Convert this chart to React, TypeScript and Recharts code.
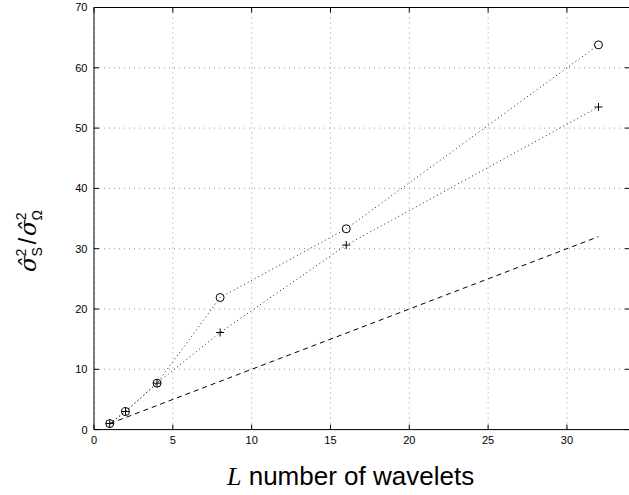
import React from 'react';
import { LineChart, Line, XAxis, YAxis, CartesianGrid, Label } from 'recharts';

const waveletCounts = [1, 2, 4, 8, 16, 32];
const circleValues = [1.0, 3.0, 7.7, 21.9, 33.3, 63.8];
const plusValues = [1.0, 3.0, 7.7, 16.1, 30.6, 53.5];
const referenceX = [1, 32];
const referenceY = [1, 32];
const xTicks = [0, 5, 10, 15, 20, 25, 30];
const yTicks = [0, 10, 20, 30, 40, 50, 60, 70];

const circleData = waveletCounts.map((x, i) => ({ x, y: circleValues[i] }));
const plusData = waveletCounts.map((x, i) => ({ x, y: plusValues[i] }));
const refData = referenceX.map((x, i) => ({ x, y: referenceY[i] }));

const CircleDot = (props: any) => {
  const { cx, cy, index } = props;
  return <circle key={`c-${index}`} cx={cx} cy={cy} r={4} fill="none" stroke="#000" strokeWidth={1} />;
};

const PlusDot = (props: any) => {
  const { cx, cy, index } = props;
  const s = 4;
  return (
    <g key={`p-${index}`}>
      <line x1={cx - s} x2={cx + s} y1={cy} y2={cy} stroke="#000" strokeWidth={1} />
      <line x1={cx} x2={cx} y1={cy - s} y2={cy + s} stroke="#000" strokeWidth={1} />
    </g>
  );
};

const XLabel = () => (
  <text x={227} y={485} fontSize={26} fill="#000">
    <tspan fontFamily="'Liberation Serif', serif" fontStyle="italic">L</tspan>
    <tspan fontFamily="'Liberation Sans', Arial, sans-serif"> number of wavelets</tspan>
  </text>
);

const sub = { fontSize: 14, fontFamily: "'Liberation Sans', sans-serif", fontStyle: 'normal' as const };

const YLabel = () => (
  <text
    x={36}
    y={241}
    transform="rotate(-90, 36, 241)"
    textAnchor="middle"
    fontSize={23}
    fill="#000"
    fontFamily="'DejaVu Serif', serif"
  >
    <tspan fontStyle="italic">σ̂</tspan>
    <tspan {...sub} dy={-10}>2</tspan>
    <tspan {...sub} dx={-8} dy={16}>S</tspan>
    <tspan dx={3} dy={-6} fontFamily="'Liberation Sans', sans-serif">/</tspan>
    <tspan dx={2} fontStyle="italic">σ̂</tspan>
    <tspan {...sub} dy={-10}>2</tspan>
    <tspan {...sub} dx={-8} dy={16}>Ω</tspan>
  </text>
);

export default function App() {
  const tickStyle = { fill: '#000', fontSize: 11, fontFamily: "'Liberation Sans', Arial, sans-serif" };
  return (
    <div style={{ position: 'absolute', left: 0, top: 0, width: 629, height: 495, overflow: 'hidden', background: '#fff' }}>
      <LineChart
        width={631}
        height={495}
        margin={{ top: 6.5, right: 0, bottom: 35, left: 0 }}
        style={{ fontFamily: "'Liberation Sans', Arial, sans-serif" }}
      >
        <CartesianGrid stroke="#999" strokeDasharray="1 4" horizontalValues={yTicks} verticalValues={xTicks} />
        <XAxis
          dataKey="x"
          type="number"
          domain={[0, 34]}
          ticks={xTicks}
          allowDataOverflow
          height={30.4}
          tickSize={-5}
          tickMargin={12}
          tick={tickStyle}
          axisLine={{ stroke: '#000' }}
          tickLine={{ stroke: '#000' }}
        >
          <Label content={<XLabel />} />
        </XAxis>
        <XAxis
          xAxisId="top"
          orientation="top"
          dataKey="x"
          type="number"
          domain={[0, 34]}
          ticks={xTicks}
          allowDataOverflow
          height={1}
          tickSize={-5}
          tickFormatter={() => ''}
          axisLine={{ stroke: '#000' }}
          tickLine={{ stroke: '#000' }}
        />
        <YAxis
          type="number"
          domain={[0, 70]}
          ticks={yTicks}
          allowDataOverflow
          width={94}
          tickSize={-5}
          tickMargin={11.5}
          tick={tickStyle}
          axisLine={{ stroke: '#000' }}
          tickLine={{ stroke: '#000' }}
        >
          <Label content={<YLabel />} />
        </YAxis>
        <YAxis
          yAxisId="right"
          orientation="right"
          type="number"
          domain={[0, 70]}
          ticks={yTicks}
          allowDataOverflow
          width={1}
          tickSize={-5}
          tickFormatter={() => ''}
          axisLine={{ stroke: '#000' }}
          tickLine={{ stroke: '#000' }}
        />
        <Line
          data={refData}
          dataKey="y"
          type="linear"
          stroke="#000"
          strokeWidth={1}
          strokeDasharray="5 4"
          dot={false}
          activeDot={false}
          isAnimationActive={false}
        />
        <Line
          data={circleData}
          dataKey="y"
          type="linear"
          stroke="#222"
          strokeWidth={1}
          strokeDasharray="1 3"
          dot={CircleDot}
          activeDot={false}
          isAnimationActive={false}
        />
        <Line
          data={plusData}
          dataKey="y"
          type="linear"
          stroke="#222"
          strokeWidth={1}
          strokeDasharray="1 3"
          dot={PlusDot}
          activeDot={false}
          isAnimationActive={false}
        />
      </LineChart>
    </div>
  );
}
